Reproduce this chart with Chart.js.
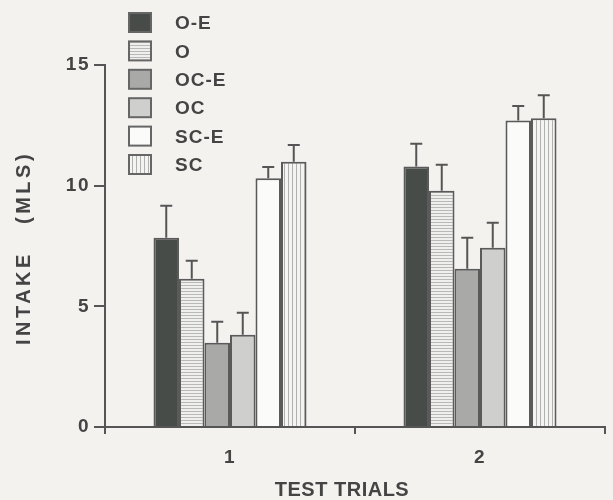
<!DOCTYPE html>
<html>
<head>
<meta charset="utf-8">
<script src="https://cdn.jsdelivr.net/npm/chart.js@4"></script>
<style>
  html, body { margin: 0; padding: 0; background: #f3f2ef; }
  #wrap { width: 613px; height: 500px; position: relative; }
</style>
</head>
<body>
<div id="wrap"><canvas id="c" width="613" height="500"></canvas></div>
<script>
const categories = ["1", "2"];
const seriesNames = ["O-E", "O", "OC-E", "OC", "SC-E", "SC"];
const valOE  = [7.84, 10.79];
const valO   = [6.14, 9.79];
const valOCE = [3.49, 6.56];
const valOC  = [3.82, 7.43];
const valSCE = [10.31, 12.70];
const valSC  = [10.99, 12.79];
const semOE  = [1.33, 0.95];
const semO   = [0.75, 1.08];
const semOCE = [0.87, 1.28];
const semOC  = [0.91, 1.03];
const semSCE = [0.46, 0.60];
const semSC  = [0.70, 0.96];
const yTicks = [0, 5, 10, 15];
const xTitle = "TEST TRIALS";
const yTitle = "INTAKE   (MLS)";

const values = [valOE, valO, valOCE, valOC, valSCE, valSC];
const sems = [semOE, semO, semOCE, semOC, semSCE, semSC];
const FONT = '"Liberation Sans", Arial, sans-serif';

function makePattern(kind) {
  const p = document.createElement('canvas');
  const ctx = p.getContext('2d');
  if (kind === 'h') {
    p.width = 4; p.height = 3;
    ctx.fillStyle = '#efefed'; ctx.fillRect(0, 0, 4, 3);
    ctx.fillStyle = '#b8b8b6'; ctx.fillRect(0, 0, 4, 1);
  } else {
    p.width = 4; p.height = 4;
    ctx.fillStyle = '#f4f4f2'; ctx.fillRect(0, 0, 4, 4);
    ctx.fillStyle = '#b0b0ae'; ctx.fillRect(0, 0, 1, 4);
  }
  return document.getElementById('c').getContext('2d').createPattern(p, 'repeat');
}

const fills = ['#474c49', makePattern('h'), '#a9a9a8', '#cfcfcd', '#fbfbfa', makePattern('v')];
const edge = '#5a5a5a';

const datasets = seriesNames.map((n, i) => ({
  label: n,
  data: values[i],
  backgroundColor: fills[i],
  borderColor: edge,
  borderWidth: 2,
  borderSkipped: 'bottom'
}));

const spacing = {
  id: 'spacing',
  beforeDraw(chart) { chart.ctx.letterSpacing = '1.5px'; }
};

const errorBars = {
  id: 'errorBars',
  afterDatasetsDraw(chart) {
    const ctx = chart.ctx;
    const ys = chart.scales.y;
    ctx.save();
    ctx.strokeStyle = '#555';
    ctx.lineWidth = 2;
    chart.data.datasets.forEach((ds, di) => {
      const meta = chart.getDatasetMeta(di);
      meta.data.forEach((bar, j) => {
        const top = ys.getPixelForValue(ds.data[j]);
        const e = ys.getPixelForValue(ds.data[j] + sems[di][j]);
        ctx.beginPath();
        ctx.moveTo(bar.x, top);
        ctx.lineTo(bar.x, e);
        ctx.moveTo(bar.x - 6, e);
        ctx.lineTo(bar.x + 6, e);
        ctx.stroke();
      });
    });
    ctx.restore();
  }
};

const customText = {
  id: 'customText',
  afterDraw(chart) {
    const ctx = chart.ctx;
    ctx.save();
    ctx.fillStyle = '#444';
    ctx.textAlign = 'center';
    ctx.textBaseline = 'middle';
    ctx.font = 'bold 20px ' + FONT;
    ctx.letterSpacing = '0.5px';
    ctx.fillText(xTitle, 342, 490);
    ctx.translate(24, 248);
    ctx.rotate(-Math.PI / 2);
    ctx.font = 'bold 20px ' + FONT;
    ctx.letterSpacing = '3.5px';
    ctx.fillText(yTitle, 0, 0);
    ctx.restore();
    // legend
    ctx.save();
    ctx.font = 'bold 19px ' + FONT;
    ctx.letterSpacing = '1px';
    ctx.textAlign = 'left';
    ctx.textBaseline = 'middle';
    chart.data.datasets.forEach((ds, i) => {
      const y = 13 + i * 28.4;
      ctx.fillStyle = ds.backgroundColor;
      ctx.fillRect(129, y, 22, 19);
      ctx.strokeStyle = '#666';
      ctx.lineWidth = 2;
      ctx.strokeRect(129, y, 22, 19);
      ctx.fillStyle = '#444';
      ctx.fillText(ds.label, 175, y + 11);
    });
    ctx.restore();
  }
};

new Chart(document.getElementById('c'), {
  type: 'bar',
  data: { labels: categories, datasets },
  plugins: [spacing, errorBars, customText],
  options: {
    responsive: false,
    animation: false,
    layout: { padding: { top: 65, right: 8, left: 0, bottom: 0 } },
    plugins: { legend: { display: false }, tooltip: { enabled: false } },
    datasets: { bar: { categoryPercentage: 0.612, barPercentage: 1.0 } },
    scales: {
      x: {
        afterFit(s) { s.height = 73; },
        grid: { display: true, drawOnChartArea: false, offset: true, color: '#555', lineWidth: 2, tickLength: 7 },
        border: { display: true, color: '#555', width: 2 },
        ticks: { color: '#444', font: { family: FONT, weight: 'bold', size: 19 }, padding: 12 }
      },
      y: {
        min: 0, max: 15,
        afterFit(s) { s.width = 105; },
        afterBuildTicks(s) { s.ticks = yTicks.map(v => ({ value: v })); },
        grid: { display: true, drawOnChartArea: false, color: '#555', lineWidth: 2, tickLength: 11 },
        border: { display: true, color: '#555', width: 2 },
        ticks: { color: '#444', font: { family: FONT, weight: 'bold', size: 19 }, padding: 4 }
      }
    }
  }
});
</script>
</body>
</html>
